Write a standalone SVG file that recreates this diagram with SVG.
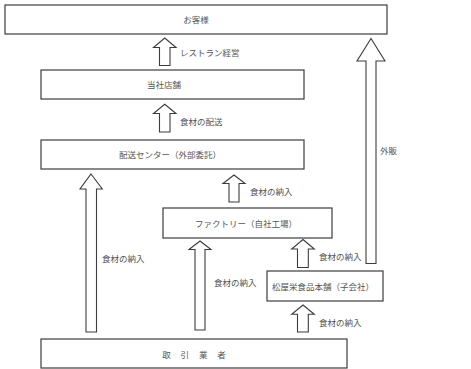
<svg xmlns="http://www.w3.org/2000/svg" width="471" height="369" viewBox="0 0 471 369">
<style>
.box{fill:#fff;stroke:#3c3c3c;stroke-width:1.2}
.arr{fill:#fff;stroke:#3c3c3c;stroke-width:1.1;stroke-linejoin:miter}
text{font-family:"Noto Sans CJK JP","Noto Sans",sans-serif;font-size:8.5px;fill:#555}
.c{text-anchor:middle}
</style>
<rect width="471" height="369" fill="#fff"/>
<g id="connectors">
<polygon class="arr" points="164.7,38 176,47.5 170,47.5 170,65.5 159.5,65.5 159.5,47.5 153.5,47.5"/>
<polygon class="arr" points="164.7,104.3 176,113.5 170,113.5 170,132 159.5,132 159.5,113.5 153.5,113.5"/>
<polygon class="arr" points="371,38.5 385,61 376,61 376,263.5 366,263.5 366,61 357,61"/>
<polygon class="arr" points="91,174 102.3,189 96.5,189 96.5,332 86,332 86,189 80,189"/>
<polygon class="arr" points="234,175 245,183.5 239,183.5 239,202 229,202 229,183.5 223,183.5"/>
<polygon class="arr" points="200,241 211,249.5 205,249.5 205,330 195,330 195,249.5 189,249.5"/>
<polygon class="arr" points="303,239.5 314.3,249 308.3,249 308.3,267.5 297.5,267.5 297.5,249 291.7,249"/>
<polygon class="arr" points="303,305 314.3,314.3 308.3,314.3 308.3,332 297.5,332 297.5,314.3 291.7,314.3"/>
<text x="180" y="56">レストラン経営</text>
<text x="180" y="125">食材の配送</text>
<text x="380" y="154">外販</text>
<text x="250" y="195">食材の納入</text>
<text x="102" y="262">食材の納入</text>
<text x="214" y="286">食材の納入</text>
<text x="319" y="260">食材の納入</text>
<text x="319" y="326">食材の納入</text>
</g>
<g id="customer"><rect class="box" x="5" y="5" width="382" height="29"/><text class="c" x="196" y="23">お客様</text></g>
<g id="store"><rect class="box" x="41" y="70" width="263" height="29"/><text class="c" x="164" y="88">当社店舗</text></g>
<g id="delivery"><rect class="box" x="41" y="140" width="263" height="29"/><text class="c" x="170" y="158">配送センター（外部委託）</text></g>
<g id="factory"><rect class="box" x="163" y="208" width="169" height="30"/><text class="c" x="246" y="227">ファクトリー（自社工場）</text></g>
<g id="matsuya"><rect class="box" x="267" y="271" width="116" height="30"/><text class="c" x="323" y="290">松屋栄食品本舗（子会社）</text></g>
<g id="suppliers"><rect class="box" x="41" y="339" width="306" height="29"/><text class="c" x="196" y="358" style="letter-spacing:4px">取 引 業 者</text></g>
</svg>
